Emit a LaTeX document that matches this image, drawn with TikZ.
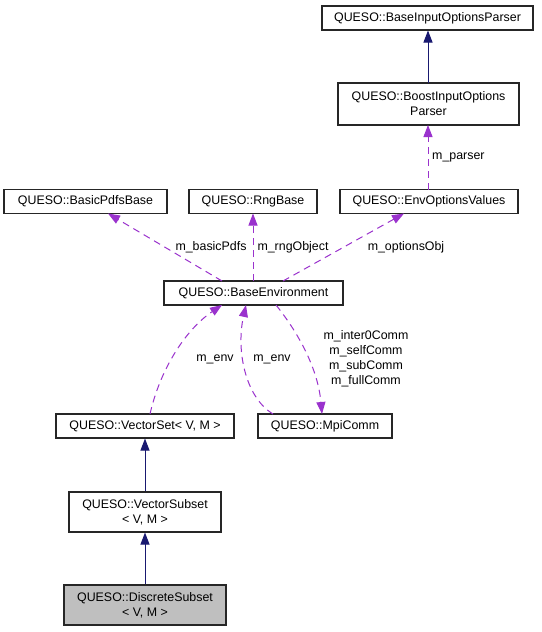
\documentclass[tikz,border=0pt]{standalone}
\usepackage{fontspec}
\setmainfont{Liberation Sans}
\usetikzlibrary{arrows.meta}
\definecolor{navyedge}{HTML}{191970}
\definecolor{purpedge}{HTML}{9A32CD}
\definecolor{grayfill}{HTML}{BFBFBF}
\begin{document}
\begin{tikzpicture}[x=1pt,y=1pt,
  box/.style={draw=black!85, line width=1.1pt, inner sep=0pt, align=center,
    font=\fontsize{12.4}{15}\selectfont, minimum height=24pt},
  twoline/.style={box, minimum height=40pt},
  inherit/.style={draw=navyedge, line width=1pt, -{Triangle[length=12pt,width=9pt]}},
  usage/.style={draw=purpedge, line width=1pt, dash pattern=on 7pt off 5pt,
    -{Triangle[length=12pt,width=9pt]}},
  lbl/.style={font=\fontsize{12.4}{15}\selectfont, inner sep=0pt, align=center}]
\useasboundingbox (0,0) rectangle (541,-632);
\fill[white] (0,0) rectangle (541,-632);
% nodes
\node[box, minimum width=211pt] (biop) at (427.5,-18) {QUESO::BaseInputOptionsParser};
\node[twoline, minimum width=181pt, minimum height=42pt] (boost) at (428.5,-104) {QUESO::BoostInputOptions\\Parser};
\node[box, minimum width=178pt] (envopt) at (429,-201.5) {QUESO::EnvOptionsValues};
\node[box, minimum width=163pt] (basic) at (85.5,-201.5) {QUESO::BasicPdfsBase};
\node[box, minimum width=128pt] (rng) at (253,-201.5) {QUESO::RngBase};
\node[box, minimum width=179pt] (benv) at (253.5,-293) {QUESO::BaseEnvironment};
\node[box, minimum width=178pt] (vset) at (145,-426) {QUESO::VectorSet< V, M >};
\node[box, minimum width=134pt] (mpi) at (325,-426) {QUESO::MpiComm};
\node[twoline, minimum width=152pt] (vsub) at (145,-512) {QUESO::VectorSubset\\< V, M >};
\node[twoline, minimum width=162pt, fill=grayfill] (disc) at (145,-605) {QUESO::DiscreteSubset\\< V, M >};
% connector end points
\coordinate (bpTop) at (428,-83);
\coordinate (bpBot) at (428,-30.5);
\coordinate (eoTop) at (428,-189.5);
\coordinate (boBot) at (428,-125);
\coordinate (beA) at (222,-281);
\coordinate (bsA) at (108,-213.5);
\coordinate (beB) at (253,-281);
\coordinate (rnB) at (253,-213.5);
\coordinate (beC) at (283,-281);
\coordinate (eoC) at (404,-213.5);
\coordinate (vsTop) at (150,-414);
\coordinate (beD) at (222,-305);
\coordinate (mpA) at (273,-414);
\coordinate (beE) at (246,-305);
\coordinate (beF) at (276,-305);
\coordinate (mpB) at (322,-414);
% inheritance
\draw[inherit] (bpTop) -- (bpBot);
\draw[inherit] (vsub.north) -- (vset.south);
\draw[inherit] (disc.north) -- (vsub.south);
% usage
\draw[usage] (eoTop) -- (boBot);
\draw[usage] (beA) -- (bsA);
\draw[usage] (beB) -- (rnB);
\draw[usage] (beC) -- (eoC);
\draw[usage] (vsTop) .. controls (160,-370) and (185,-330) .. (beD);
\draw[usage] (mpA) .. controls (245,-397) and (236,-350) .. (beE);
\draw[usage] (beF) .. controls (300,-335) and (318,-370) .. (mpB);
% labels
\node[lbl, anchor=west] (lparser) at (432,-157) {m\_parser};
\node[lbl] (lbasic) at (211,-247) {m\_basicPdfs};
\node[lbl] (lrng) at (293,-247) {m\_rngObject};
\node[lbl] (lopt) at (406,-247) {m\_optionsObj};
\node[lbl] (lenv1) at (215,-359) {m\_env};
\node[lbl] (lenv2) at (272,-359) {m\_env};
\node[lbl] (lcomm) at (366,-358.5) {m\_inter0Comm\\m\_selfComm\\m\_subComm\\m\_fullComm};
\end{tikzpicture}
\end{document}
